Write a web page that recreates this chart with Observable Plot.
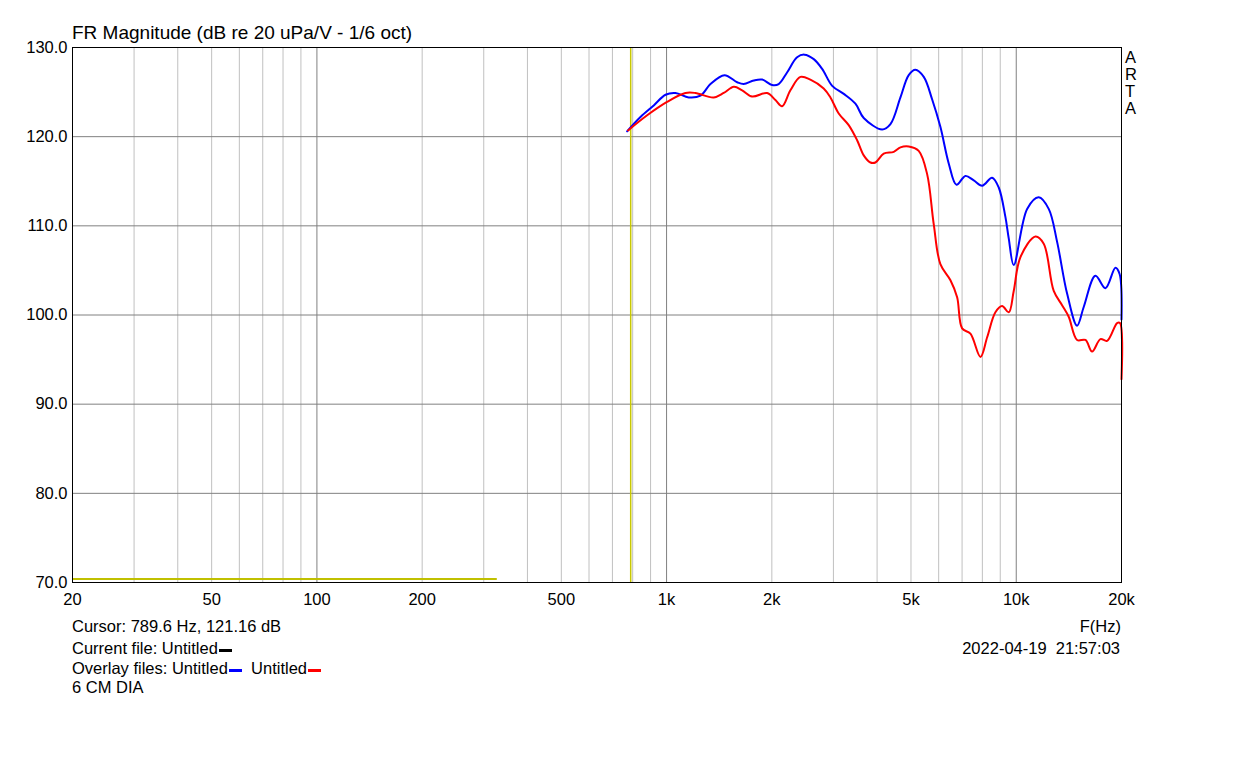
<!DOCTYPE html>
<html>
<head>
<meta charset="utf-8">
<script src="https://cdn.jsdelivr.net/npm/d3@7"></script>
<script src="https://cdn.jsdelivr.net/npm/@observablehq/plot@0.6"></script>
<style>
  body { margin: 0; background: #fff; font-family: "Liberation Sans", Arial, sans-serif; }
  #wrap { position: relative; width: 1234px; height: 768px; }
  #chart { position: absolute; left: 0; top: 0; }
  .t { position: absolute; font-size: 16.5px; color: #000; white-space: pre; line-height: 1; }
  .dash { display: inline-block; width: 13px; height: 3px; vertical-align: middle; margin-left: 1px; margin-top: 2px; }
</style>
</head>
<body>
<div id="wrap">
  <div id="chart"></div>
</div>
<script>
// ---- data ----
const blueFreq = [771, 842, 919, 993, 1060, 1157, 1250, 1335, 1464, 1592, 1662, 1776, 1876, 2004, 2092, 2211, 2362, 2478, 2636, 2786, 2976, 3212, 3468, 3663, 4137, 4368, 4665, 4926, 5148, 5439, 5746, 6068, 6411, 6746, 7156, 7560, 7990, 8531, 8911, 9311, 9518, 9836, 10744, 11596, 12384, 13088, 13978, 14930, 15596, 16846, 17990, 19214, 19750, 20000];
const blueDb   = [120.6, 122.2, 123.5, 124.7, 124.9, 124.4, 124.6, 125.9, 126.9, 126.1, 125.9, 126.3, 126.4, 125.8, 125.9, 127.2, 128.9, 129.2, 128.7, 127.6, 125.7, 124.8, 123.7, 122.1, 120.8, 121.4, 124.4, 126.9, 127.5, 126.7, 124.2, 121.1, 117.0, 114.6, 115.6, 115.1, 114.5, 115.4, 114.3, 111.0, 108.6, 105.6, 111.9, 113.2, 111.9, 108.2, 102.4, 98.8, 100.9, 104.4, 103.0, 105.3, 104.6, 99.5];

const redFreq = [776, 880, 1003, 1132, 1209, 1364, 1457, 1557, 1645, 1757, 1939, 2048, 2140, 2260, 2414, 2578, 2814, 2942, 3107, 3318, 3507, 3663, 3828, 3956, 4178, 4464, 4665, 4926, 5261, 5561, 5808, 6068, 6484, 6776, 7002, 7396, 7900, 8257, 8718, 9110, 9518, 9836, 10281, 11348, 11984, 12800, 13524, 14127, 14930, 15773, 16479, 17408, 18192, 19428, 19800, 20000];
const redDb   = [120.7, 122.4, 123.9, 124.9, 124.9, 124.4, 124.9, 125.6, 125.2, 124.5, 124.9, 124.1, 123.4, 125.2, 126.7, 126.4, 125.4, 124.4, 122.6, 121.3, 119.6, 117.9, 117.1, 117.1, 118.1, 118.3, 118.8, 118.9, 118.4, 115.8, 110.2, 105.7, 103.9, 102.0, 98.5, 97.9, 95.3, 97.5, 100.3, 101.0, 100.3, 102.7, 106.5, 108.8, 108.0, 102.7, 101.1, 99.8, 97.2, 97.2, 95.9, 97.3, 97.1, 99.1, 99.1, 92.8];

const xTicks = [20, 50, 100, 200, 500, 1000, 2000, 5000, 10000, 20000];
const xTickLabels = ["20", "50", "100", "200", "500", "1k", "2k", "5k", "10k", "20k"];
const yTicks = [70, 80, 90, 100, 110, 120, 130];
const yTickLabels = ["70.0", "80.0", "90.0", "100.0", "110.0", "120.0", "130.0"];
const majorGrid = [100, 1000, 10000];
const minorGrid = [30, 40, 50, 60, 70, 80, 90, 200, 300, 400, 500, 600, 700, 800, 900, 2000, 3000, 4000, 5000, 6000, 7000, 8000, 9000];
const cursorFreq = 789.6;
const cursorBarEnd = 328;   // Hz, end of the yellow bar at the bottom
const cursorBarDb = 70.4;

const blue = blueFreq.map((f, i) => ({f, db: blueDb[i]}));
const red = redFreq.map((f, i) => ({f, db: redDb[i]}));
const xLab = xTicks.map((v, i) => ({v, label: xTickLabels[i]}));
const yLab = yTicks.map((v, i) => ({v, label: yTickLabels[i]}));

const chart = Plot.plot({
  width: 1234,
  height: 640,
  marginLeft: 72,
  marginRight: 113,
  marginTop: 47,
  marginBottom: 58,
  style: {fontFamily: "'Liberation Sans', Arial, sans-serif", fontSize: "16.5px", color: "#000", background: "#fff"},
  x: {type: "log", domain: [20, 20000], axis: null},
  y: {domain: [70, 130], axis: null},
  marks: [
    Plot.ruleX(minorGrid, {stroke: "#c0c0c0", strokeWidth: 1}),
    Plot.ruleX(majorGrid, {stroke: "#808080", strokeWidth: 1}),
    Plot.ruleY([80, 90, 100, 110, 120], {stroke: "#808080", strokeWidth: 1}),
    Plot.ruleX([cursorFreq], {stroke: "#c8c800", strokeWidth: 1.5}),
    Plot.ruleY([cursorBarDb], {x1: 20, x2: cursorBarEnd, stroke: "#c0c000", strokeWidth: 2}),
    Plot.line(blue, {x: "f", y: "db", stroke: "#0000ff", strokeWidth: 2, curve: "catmull-rom"}),
    Plot.line(red, {x: "f", y: "db", stroke: "#ff0000", strokeWidth: 2, curve: "catmull-rom"}),
    Plot.frame({stroke: "#000", strokeWidth: 1}),
    Plot.text(xLab, {x: "v", text: "label", frameAnchor: "bottom", dy: 22, fill: "#000", fontSize: 16.5}),
    Plot.text(yLab, {y: "v", text: "label", frameAnchor: "left", textAnchor: "end", dx: -5, fill: "#000", fontSize: 16.5})
  ]
});
document.getElementById("chart").appendChild(chart);

const wrap = document.getElementById("wrap");
function addText(html, left, top, opts = {}) {
  const d = document.createElement("div");
  d.className = "t";
  d.innerHTML = html;
  d.style.top = top + "px";
  if (opts.right != null) d.style.right = opts.right + "px"; else d.style.left = left + "px";
  if (opts.size) d.style.fontSize = opts.size + "px";
  wrap.appendChild(d);
}
addText("FR Magnitude (dB re 20 uPa/V - 1/6 oct)", 72, 23, {size: 19});
addText("A", 1125, 49); addText("R", 1125, 66); addText("T", 1125, 83); addText("A", 1125, 100);
addText("Cursor: 789.6 Hz, 121.16 dB", 72, 618);
addText('Current file: Untitled<span class="dash" style="background:#000"></span>', 72, 640);
addText('Overlay files: Untitled<span class="dash" style="background:#0000ff"></span>  Untitled<span class="dash" style="background:#ff0000"></span>', 72, 660);
addText("6 CM DIA", 72, 679);
addText("F(Hz)", 0, 618, {right: 113});
addText("2022-04-19  21:57:03", 0, 640, {right: 114});
</script>
</body>
</html>
